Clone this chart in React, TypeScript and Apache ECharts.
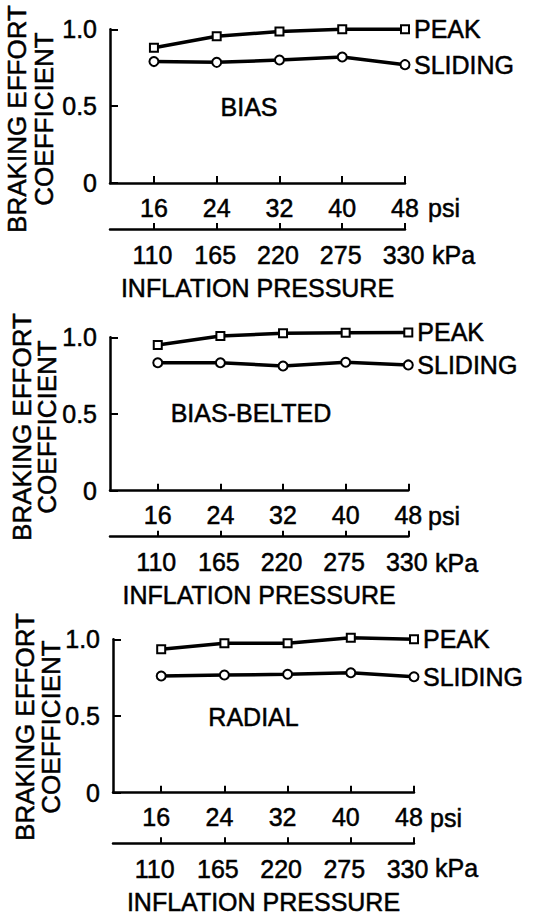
import React, { useEffect, useRef } from "react";
import * as echarts from "echarts";

const psiTicks = [16, 24, 32, 40, 48];
const kpaTicks = [110, 165, 220, 275, 330];
const seriesNames = ["PEAK", "SLIDING"];
const panelNames = ["BIAS", "BIAS-BELTED", "RADIAL"];
const xTitle = "INFLATION PRESSURE";
const yTitleLines = ["BRAKING EFFORT", "COEFFICIENT"];
const psiUnit = "psi";
const kpaUnit = "kPa";

const biasPeak = [0.88, 0.955, 0.985, 1.0, 1.0];
const biasSliding = [0.79, 0.785, 0.8, 0.82, 0.77];
const beltedPeak = [0.95, 1.008, 1.026, 1.03, 1.032];
const beltedSliding = [0.834, 0.834, 0.813, 0.837, 0.82];
const radialPeak = [0.935, 0.974, 0.974, 1.01, 1.0];
const radialSliding = [0.761, 0.767, 0.772, 0.782, 0.756];

const peakSets = [biasPeak, beltedPeak, radialPeak];
const slidingSets = [biasSliding, beltedSliding, radialSliding];

const FONT = "'Liberation Sans', Arial, Helvetica, sans-serif";
const FS = 25;
const TB = { textBorderColor: "#000", textBorderWidth: 0.5 };

const layout = [
  { left: 110, top: 29.3, width: 295, height: 153.7, xmin: 10.4, kpaOffset: 46, shift: 0, label: [249, 107], yName: [16.5, 43.5, 119], psi: [428, 208], kpa: [432, 255] },
  { left: 110, top: 337.3, width: 298.3, height: 153.4, xmin: 9.9, kpaOffset: 46, shift: 0, label: [251, 413], yName: [21.5, 46.5, 427], psi: [428, 516], kpa: [435, 563] },
  { left: 113, top: 639.3, width: 301, height: 153.4, xmin: 9.9, kpaOffset: 50.6, shift: 10, label: [253.5, 716.7], yName: [25, 51, 727], psi: [430, 818], kpa: [435, 868] },
];

export default function App() {
  const ref = useRef<HTMLDivElement>(null);
  useEffect(() => {
    document.body.style.margin = "0";
    if (!ref.current) return;
    const chart = echarts.init(ref.current, null, { renderer: "svg" });
    const black = "#000";
    const grids: any[] = [];
    const xAxes: any[] = [];
    const yAxes: any[] = [];
    const series: any[] = [];
    const graphics: any[] = [];
    layout.forEach((L, i) => {
      grids.push({ left: L.left, top: L.top, width: L.width, height: L.height, containLabel: false });
      const axisCommon = {
        axisLine: { show: true, lineStyle: { color: black, width: 2.5 } },
        splitLine: { show: false },
      };
      xAxes.push({
        ...axisCommon,
        type: "value",
        gridIndex: i,
        position: "bottom",
        min: L.xmin,
        max: 48,
        axisTick: { show: true, inside: true, length: 7, customValues: psiTicks, lineStyle: { color: black, width: 2 } },
        axisLabel: { show: true, customValues: psiTicks, margin: 12, fontSize: FS, color: black, fontFamily: FONT, padding: [0, L.shift, 0, 0], ...TB },
      });
      xAxes.push({
        ...axisCommon,
        type: "value",
        gridIndex: i,
        position: "bottom",
        offset: L.kpaOffset,
        min: L.xmin * 6.875,
        max: 330,
        axisTick: { show: true, inside: true, length: 6, customValues: kpaTicks, lineStyle: { color: black, width: 2 } },
        axisLabel: { show: true, customValues: kpaTicks, margin: 13, fontSize: FS, color: black, fontFamily: FONT, padding: [0, L.shift + 3, 0, 0], ...TB },
        name: xTitle,
        nameLocation: "middle",
        nameGap: 46,
        nameTextStyle: { fontSize: FS, color: black, fontFamily: FONT, ...TB },
      });
      yAxes.push({
        ...axisCommon,
        type: "value",
        gridIndex: i,
        min: 0,
        max: 1,
        interval: 0.5,
        axisTick: { show: true, inside: true, length: 8, lineStyle: { color: black, width: 2 } },
        axisLabel: {
          show: true,
          margin: 13,
          fontSize: FS,
          color: black,
          fontFamily: FONT,
          ...TB,
          formatter: (v: number) => (v === 0 ? "0" : v.toFixed(1)),
        },
      });
      const sets = [peakSets[i], slidingSets[i]];
      sets.forEach((vals, k) => {
        series.push({
          type: "line",
          name: seriesNames[k],
          xAxisIndex: i * 2,
          yAxisIndex: i,
          data: psiTicks.map((p, j) => [p, vals[j]]),
          clip: false,
          symbol: k === 0 ? "rect" : "circle",
          symbolSize: k === 0 ? 8 : 9,
          showAllSymbol: true,
          itemStyle: { color: "#fff", borderColor: black, borderWidth: 2 },
          lineStyle: { color: black, width: 3.5 },
          z: 3,
          endLabel: {
            show: true,
            formatter: seriesNames[k],
            distance: 9,
            fontSize: FS,
            color: black,
            fontFamily: FONT,
            ...TB,
          },
        });
      });
      graphics.push({
        type: "text",
        x: L.label[0],
        y: L.label[1],
        style: { text: panelNames[i], fontSize: FS, fill: black, fontFamily: FONT, align: "center", verticalAlign: "middle", stroke: black, lineWidth: 0.5 },
      });
      yTitleLines.forEach((t, k) => {
        graphics.push({
          type: "text",
          x: L.yName[k],
          y: L.yName[2],
          rotation: Math.PI / 2,
          style: { text: t, fontSize: 26, fill: black, fontFamily: FONT, align: "center", verticalAlign: "middle", stroke: black, lineWidth: 0.5 },
        });
      });
      graphics.push({
        type: "text",
        x: L.psi[0],
        y: L.psi[1],
        style: { text: psiUnit, fontSize: FS, fill: black, fontFamily: FONT, align: "left", verticalAlign: "middle", stroke: black, lineWidth: 0.5 },
      });
      graphics.push({
        type: "text",
        x: L.kpa[0],
        y: L.kpa[1],
        style: { text: kpaUnit, fontSize: FS, fill: black, fontFamily: FONT, align: "left", verticalAlign: "middle", stroke: black, lineWidth: 0.5 },
      });
    });
    chart.setOption({
      animation: false,
      backgroundColor: "#fff",
      textStyle: { fontFamily: FONT },
      grid: grids,
      xAxis: xAxes,
      yAxis: yAxes,
      series,
      graphic: graphics,
    });
    return () => chart.dispose();
  }, []);
  return <div ref={ref} style={{ width: 538, height: 917 }} />;
}
